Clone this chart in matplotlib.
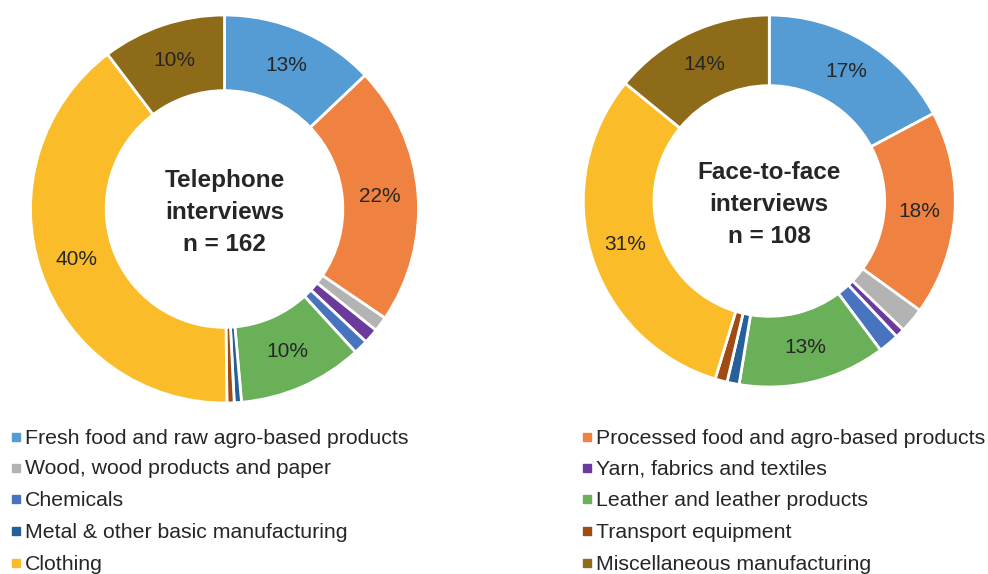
import matplotlib.pyplot as plt
from matplotlib.patches import Rectangle

plt.rcParams["font.family"] = ["Liberation Sans", "DejaVu Sans"]

categories = [
    "Fresh food and raw agro-based products",
    "Processed food and agro-based products",
    "Wood, wood products and paper",
    "Yarn, fabrics and textiles",
    "Chemicals",
    "Leather and leather products",
    "Metal & other basic manufacturing",
    "Transport equipment",
    "Clothing",
    "Miscellaneous manufacturing",
]
colors = ["#559BD4", "#EF8240", "#B3B3B3", "#6A3B9C", "#4874BF",
          "#6AB058", "#26609A", "#A04A14", "#FBBC2A", "#8E6B19"]

# shares in percent
telephone = [12.9, 21.6, 1.25, 1.25, 1.2, 10.4, 0.6, 0.6, 39.9, 10.3]
face_to_face = [17.2, 17.8, 2.2, 0.8, 1.8, 12.8, 1.05, 1.05, 31.2, 14.1]

telephone_title = "Telephone\ninterviews\nn = 162"
face_title = "Face-to-face\ninterviews\nn = 108"

W, H = 988, 574
fig = plt.figure(figsize=(W / 100, H / 100), dpi=100)


def donut(cx, cy, r, values, title, width):
    ax = fig.add_axes([(cx - r) / W, (H - cy - r) / H, 2 * r / W, 2 * r / H])
    ax.pie(
        values, colors=colors, startangle=90, counterclock=False,
        radius=1, autopct=lambda p: f"{p:.0f}%" if p >= 5 else "",
        pctdistance=1 - width / 2,
        wedgeprops=dict(width=width, edgecolor="white", linewidth=2),
        textprops=dict(fontsize=15, color="#262626"))
    ax.set_xlim(-1, 1)
    ax.set_ylim(-1, 1)
    ax.set_aspect("equal")
    ax.axis("off")
    ax.text(0, -0.02, title, ha="center", va="center", fontsize=17.5,
            fontweight="bold", color="#262626", linespacing=1.5)
    return ax


donut(224.5, 209, 194, telephone, telephone_title, 0.39)
donut(769.3, 201, 186, face_to_face, face_title, 0.38)

# legend, two columns, row-major order
row_y = [437, 468, 499, 531, 563]
col_x = [12, 583]
for i, (name, c) in enumerate(zip(categories, colors)):
    row, col = divmod(i, 2)
    x, y = col_x[col], row_y[row]
    fig.patches.append(Rectangle((x / W, (H - y - 4) / H), 8 / W, 8 / H,
                                 transform=fig.transFigure, color=c))
    fig.text((x + 13) / W, (H - y - 1) / H, name, fontsize=15.3, color="#262626",
             va="center", ha="left")

fig.savefig("out.png", dpi=100)
